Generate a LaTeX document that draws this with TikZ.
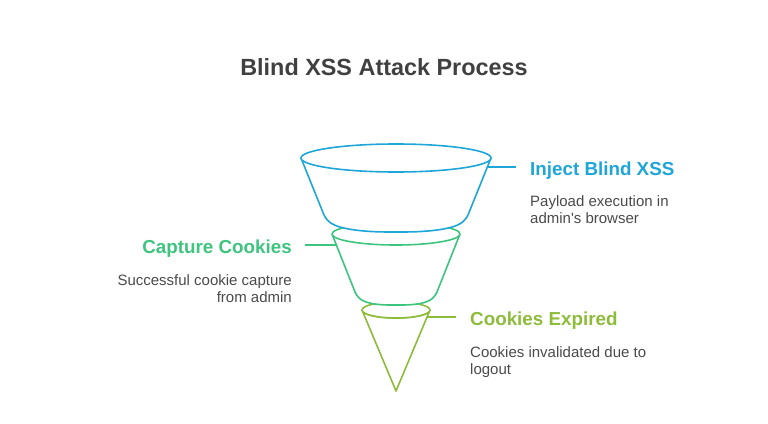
\documentclass[tikz,border=0pt]{standalone}
\usepackage{fontspec}
\setmainfont{Liberation Sans}[Ligatures=TeXOff]
\definecolor{cblue}{HTML}{1FA6D8}
\definecolor{cgreen}{HTML}{3DC47E}
\definecolor{colive}{HTML}{8DBB3A}
\definecolor{ctext}{HTML}{4A4A4A}
\definecolor{ctitle}{HTML}{404040}
\begin{document}
\begin{tikzpicture}[x=1pt,y=-1pt,
  seg/.style={line width=1.6pt, fill=white, line join=round},
  conn/.style={line width=1.6pt},
  head/.style={font=\fontsize{18.8}{22}\selectfont\bfseries, inner sep=0pt},
  desc/.style={font=\fontsize{15}{18}\selectfont, text=ctext, inner sep=0pt}]
\useasboundingbox (0,0) rectangle (768,423);
\node[font=\fontsize{23.4}{27}\selectfont\bfseries, text=ctitle, anchor=base, inner sep=0pt] (title) at (384,75) {Blind XSS Attack Process};

% olive cone
\draw[seg, draw=colive] (362,310) -- (396,391) -- (430,310) arc[start angle=0,end angle=180,x radius=34,y radius=8] -- cycle;
\draw[seg, draw=colive] (396,310) ellipse [x radius=34, y radius=8];

% green segment
\fill[white] (332,234) arc[start angle=180,end angle=360,x radius=64,y radius=11] -- (459,236) -- (435,296) -- (357,296) -- (333,236) -- cycle;
\draw[line width=1.6pt, draw=cgreen, fill=white, rounded corners=5pt] (332,234) -- (357,297) .. controls (368,304) and (380,305) .. (396,305) .. controls (412,305) and (424,304) .. (435,297) -- (460,234);
\draw[seg, draw=cgreen] (396,234) ellipse [x radius=64, y radius=11];

% blue segment
\fill[white] (301,158) -- (326,220) -- (466,220) -- (491,158) -- cycle;
\draw[line width=1.6pt, draw=cblue, fill=white, rounded corners=6pt] (301,158) -- (326,220) .. controls (340,229) and (362,232) .. (396,232) .. controls (430,232) and (452,229) .. (466,220) -- (491,158);
\draw[seg, draw=cblue] (396,158) ellipse [x radius=95, y radius=14];

% labels
\node[head, text=cblue, anchor=base west] (h1) at (530,175) {Inject Blind XSS};
\node[desc, anchor=base west] (d1a) at (530,206) {Payload execution in};
\node[desc, anchor=base west] (d1b) at (530,223) {admin's browser};

\node[head, text=cgreen, anchor=base east] (h2) at (292,253) {Capture Cookies};
\node[desc, anchor=base east] (d2a) at (292,285) {Successful cookie capture};
\node[desc, anchor=base east] (d2b) at (292,302) {from admin};

\node[head, text=colive, anchor=base west] (h3) at (470,325) {Cookies Expired};
\node[desc, anchor=base west] (d3a) at (470,357) {Cookies invalidated due to};
\node[desc, anchor=base west] (d3b) at (470,374) {logout};

% connectors
\coordinate (c1a) at (488,167); \coordinate (c1b) at (516,167);
\coordinate (c2a) at (305,245); \coordinate (c2b) at (336,245);
\coordinate (c3a) at (427,317); \coordinate (c3b) at (456,317);
\draw[conn, cblue] (c1a) -- (c1b);
\draw[conn, cgreen] (c2a) -- (c2b);
\draw[conn, colive] (c3a) -- (c3b);
\end{tikzpicture}
\end{document}
